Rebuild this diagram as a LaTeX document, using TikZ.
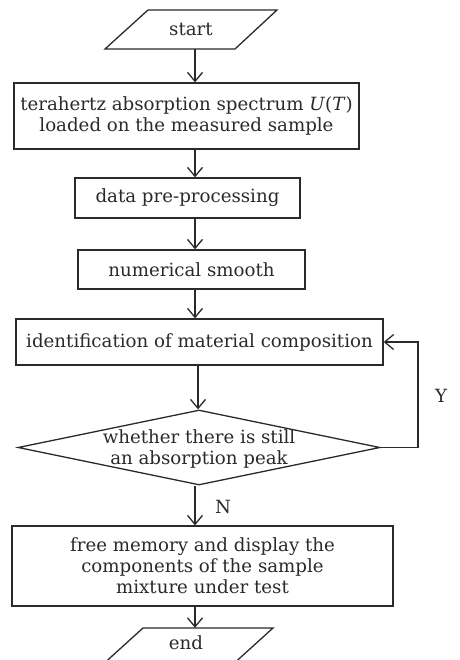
\documentclass[tikz,border=0pt]{standalone}
\usepackage{fontspec}
\setmainfont{DejaVu Serif}
\usetikzlibrary{arrows.meta,shapes.geometric}
\definecolor{ink}{HTML}{2A2A2A}
\begin{document}
\begin{tikzpicture}[x=1pt,y=-1pt,
  every node/.style={font=\fontsize{18.2}{21}\selectfont, text=ink},
  box/.style={draw=ink, line width=1.3pt, rectangle, inner sep=0pt, align=center},
  flow/.style={draw=ink, line width=1.3pt, -{Straight Barb[length=9pt,width=15pt,line width=1.3pt]}},
  edge/.style={draw=ink, line width=1.3pt, line join=miter}]
\useasboundingbox (0,0) rectangle (459,660);
\clip (0,0) rectangle (459,660);

% start terminal
\draw[edge] (148,10) -- (277,10) -- (235,49) -- (105,49) -- cycle;
\node[inner sep=0pt, minimum width=130pt, minimum height=39pt] (start) at (191,29.5) {start};

% process boxes
\node[box, minimum width=345pt, minimum height=66pt] (load) at (186.5,116)
  {terahertz absorption spectrum \textit{U}(\textit{T})\\loaded on the measured sample};
\node[box, minimum width=225pt, minimum height=40pt] (pre) at (187.5,198) {data pre-processing};
\node[box, minimum width=227pt, minimum height=39pt] (smooth) at (191.5,269.5) {numerical smooth};
\node[box, minimum width=367pt, minimum height=46pt] (ident) at (199.5,342) {identification of material composition};

% decision
\node[diamond, draw=ink, line width=1.3pt, minimum width=362pt, minimum height=75pt, inner sep=0pt] (dec) at (199,447.5) {};
\node[align=center, inner sep=0pt] (dectext) at (199,449) {whether there is still\\an absorption peak};

\node[box, minimum width=381pt, minimum height=80pt] (free) at (202.5,566)
  {free memory and display the\\components of the sample\\mixture under test};

% end terminal (runs past the lower edge)
\draw[edge] (143,628) -- (273,628) -- (230,667) -- (100,667) -- cycle;
\node[inner sep=0pt, minimum width=130pt, minimum height=30pt] (stop) at (186,643) {end};

% connectors
\coordinate (c1) at (195,0);
\coordinate (c2) at (198,0);
\draw[flow] (start.south -| c1) -- (load.north -| c1);
\draw[flow] (load.south -| c1) -- (pre.north -| c1);
\draw[flow] (pre.south -| c1) -- (smooth.north -| c1);
\draw[flow] (smooth.south -| c1) -- (ident.north -| c1);
\draw[flow] (ident.south -| c2) -- (dec.north -| c2);
\draw[flow] (dec.south -| c1) -- (free.north -| c1);
\draw[flow] (free.south -| c1) -- (stop.north -| c1);

% loop back on Y
\coordinate (loop) at (418,0);
\draw[flow] (dec.east) -- (dec.east -| loop) -- (ident.east -| loop) -- (ident.east);
\node (ylab) at (441,396) {Y};
\node (nlab) at (223,507) {N};
\end{tikzpicture}
\end{document}
